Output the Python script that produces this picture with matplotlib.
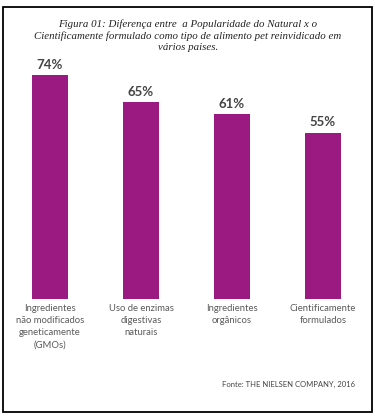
import matplotlib
matplotlib.use("Agg")
import matplotlib.pyplot as plt
from matplotlib.patches import Rectangle

categories = ["Ingredientes\nnão modificados\ngeneticamente\n(GMOs)",
              "Uso de enzimas\ndigestivas\nnaturais",
              "Ingredientes\norgânicos",
              "Cientificamente\nformulados"]
values = [74, 65, 61, 55]
value_labels = ["74%", "65%", "61%", "55%"]

title = ("Figura 01: Diferença entre  a Popularidade do Natural x o\n"
         "Cientificamente formulado como tipo de alimento pet reinvidicado em\n"
         "vários paises.")
source = "Fonte: THE NIELSEN COMPANY, 2016"

W, H = 375, 417
fig = plt.figure(figsize=(W / 100, H / 100), dpi=100)
fig.patch.set_facecolor("white")

# outer frame
fig.patches.append(Rectangle((3 / W, 1 - 412 / H), 369 / W, 405 / H,
                             transform=fig.transFigure, fill=False,
                             edgecolor="black", linewidth=1.3))

fig.text(188 / W, 1 - 19 / H, title, ha="center", va="top",
         family="Liberation Serif", style="italic", fontsize=7.8,
         color="#222222", linespacing=1.3)

# axes placed in pixels: x 4.5..368.5, baseline at y=299
ax = fig.add_axes([4.5 / W, 1 - 299 / H, 364 / W, 242 / H])
x = range(len(values))
ax.bar(x, values, width=0.4, color="#9b1a82")
ax.set_xlim(-0.5, 3.5)
ax.set_ylim(0, 80)
ax.axis("off")

for i, v in enumerate(values):
    ax.annotate(value_labels[i], (i, v), xytext=(0, 3), textcoords="offset points",
                ha="center", va="bottom", family="Lato", fontweight="bold",
                fontsize=9.5, color="#444444")
    ax.annotate(categories[i], (i, 0), xytext=(0, -3.5), textcoords="offset points",
                ha="center", va="top", family="Lato", fontsize=6.8,
                color="#5a5a5a", linespacing=1.45, annotation_clip=False)

fig.text(355 / W, 1 - 384 / H, source, ha="right", va="center",
         family="Lato", fontsize=5.5, color="#444444")

fig.savefig("out.png", dpi=100)
